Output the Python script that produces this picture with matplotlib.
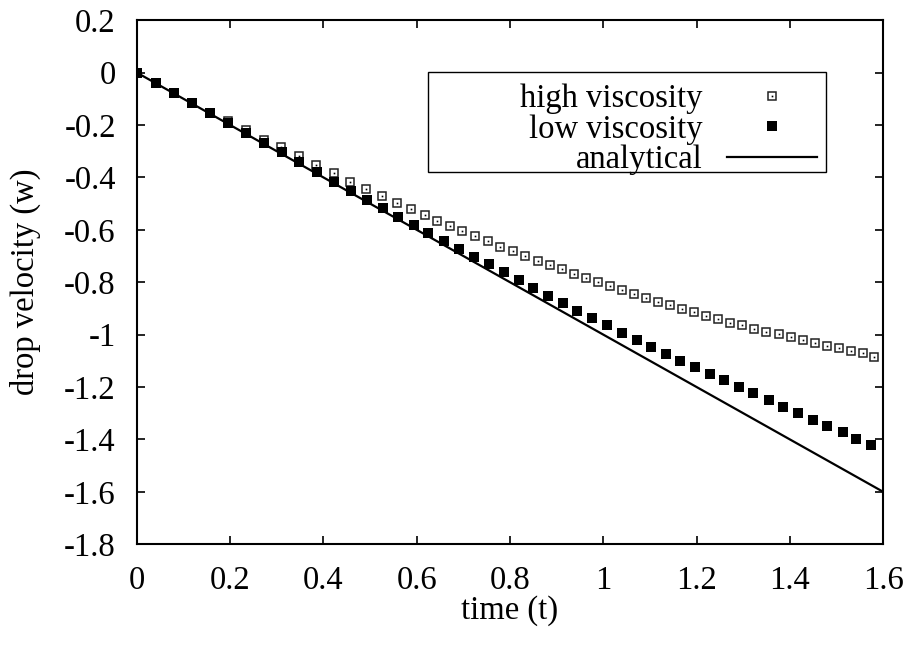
import matplotlib
matplotlib.use("Agg")
import matplotlib.pyplot as plt
from matplotlib.patches import Rectangle
from matplotlib.ticker import FuncFormatter, MultipleLocator

# values
high_t = [0.0, 0.0414, 0.0799, 0.1192, 0.1577, 0.1963, 0.2342, 0.2728, 0.3093, 0.3478,
          0.3849, 0.4222, 0.4578, 0.4921, 0.5257, 0.5572, 0.5879, 0.6172, 0.6442, 0.6715,
          0.6978, 0.7250, 0.7522, 0.7793, 0.8065, 0.8328, 0.8594, 0.8851, 0.9108, 0.9366,
          0.9629, 0.9886, 1.0144, 1.0401, 1.0658, 1.0915, 1.1172, 1.1430, 1.1687, 1.1944,
          1.2201, 1.2459, 1.2716, 1.2973, 1.3230, 1.3488, 1.3759, 1.4016, 1.4274, 1.4531,
          1.4788, 1.5045, 1.5302, 1.5559, 1.5802]
high_v = [0.0, -0.039, -0.077, -0.115, -0.153, -0.186, -0.221, -0.256, -0.285, -0.319,
          -0.352, -0.385, -0.417, -0.445, -0.472, -0.498, -0.522, -0.545, -0.566, -0.586,
          -0.605, -0.625, -0.644, -0.664, -0.682, -0.700, -0.718, -0.735, -0.751, -0.768,
          -0.784, -0.800, -0.816, -0.831, -0.845, -0.859, -0.874, -0.888, -0.902, -0.915,
          -0.929, -0.941, -0.954, -0.964, -0.977, -0.989, -0.999, -1.010, -1.020, -1.032,
          -1.042, -1.052, -1.061, -1.071, -1.084]

low_t = [0.0, 0.0414, 0.0799, 0.1192, 0.1577, 0.1963, 0.2342, 0.2728, 0.3108, 0.3478,
         0.3864, 0.4235, 0.4593, 0.4942, 0.5285, 0.5607, 0.5943, 0.6249, 0.6592, 0.6914,
         0.7235, 0.7557, 0.7878, 0.8200, 0.8500, 0.8821, 0.9143, 0.9443, 0.9764, 1.0086,
         1.0407, 1.0716, 1.1029, 1.1350, 1.1650, 1.1972, 1.2280, 1.2587, 1.2915, 1.3215,
         1.3545, 1.3858, 1.4179, 1.4501, 1.4801, 1.5131, 1.5422, 1.5744]
low_v = [0.0, -0.039, -0.077, -0.116, -0.154, -0.192, -0.230, -0.268, -0.305, -0.343,
         -0.381, -0.419, -0.452, -0.488, -0.518, -0.550, -0.583, -0.614, -0.644, -0.675,
         -0.705, -0.732, -0.762, -0.792, -0.822, -0.852, -0.880, -0.908, -0.936, -0.963,
         -0.993, -1.020, -1.047, -1.073, -1.100, -1.124, -1.149, -1.173, -1.201, -1.224,
         -1.251, -1.276, -1.300, -1.326, -1.349, -1.373, -1.397, -1.422]

analytical_t = [0.0, 1.6]
analytical_v = [0.0, -1.6]

plt.rc("font", family=["Liberation Serif", "DejaVu Serif"], size=23.5)
plt.rc("axes", unicode_minus=False)

fig = plt.figure(figsize=(9.11, 6.48), dpi=100)
ax = fig.add_axes([0.150, 0.160, 0.8196, 0.809])

hi_box, = ax.plot(high_t, high_v, ls="none", marker="s", ms=6.2, mfc="white",
                  mec="#222222", mew=1.1)
hi_dot, = ax.plot(high_t, high_v, ls="none", marker="s", ms=1.2, mfc="black",
                  mec="black", mew=0)
lo, = ax.plot(low_t, low_v, ls="none", marker="s", ms=7, mfc="black", mec="black", mew=0)
an, = ax.plot(analytical_t, analytical_v, color="black", lw=1.6)

ax.set_xlim(0, 1.6)
ax.set_ylim(-1.8, 0.2)
ax.xaxis.set_major_locator(MultipleLocator(0.2))
ax.yaxis.set_major_locator(MultipleLocator(0.2))
fmt = FuncFormatter(lambda v, p: "%g" % round(v, 6))
ax.xaxis.set_major_formatter(fmt)
ax.yaxis.set_major_formatter(fmt)
ax.tick_params(axis="y", direction="in", length=6, width=1.2, right=True, pad=15)
ax.tick_params(axis="x", direction="in", length=6, width=1.2, top=True, pad=15)
for s in ax.spines.values():
    s.set_linewidth(1.5)

ax.set_xlabel("time (t)")
ax.set_ylabel("drop velocity (w)")
ax.xaxis.set_label_coords(0.5, -0.097)
ax.yaxis.set_label_coords(-0.128, 0.5)

# gnuplot-style key: wide box, right-aligned labels
ax.add_patch(Rectangle((0.390, 0.710), 0.533, 0.191, transform=ax.transAxes,
                       fill=True, facecolor="white", edgecolor="black", lw=1.0, zorder=4))
leg = ax.legend([(hi_box, hi_dot), lo, an], ["high viscosity", "low viscosity", "analytical"],
                loc="upper right", bbox_to_anchor=(0.918, 0.888), markerfirst=False,
                frameon=False, borderpad=0.15, labelspacing=0.0, handlelength=2.75,
                handletextpad=0.75, borderaxespad=0)
leg.set_zorder(5)

fig.savefig("out.png", dpi=100)
